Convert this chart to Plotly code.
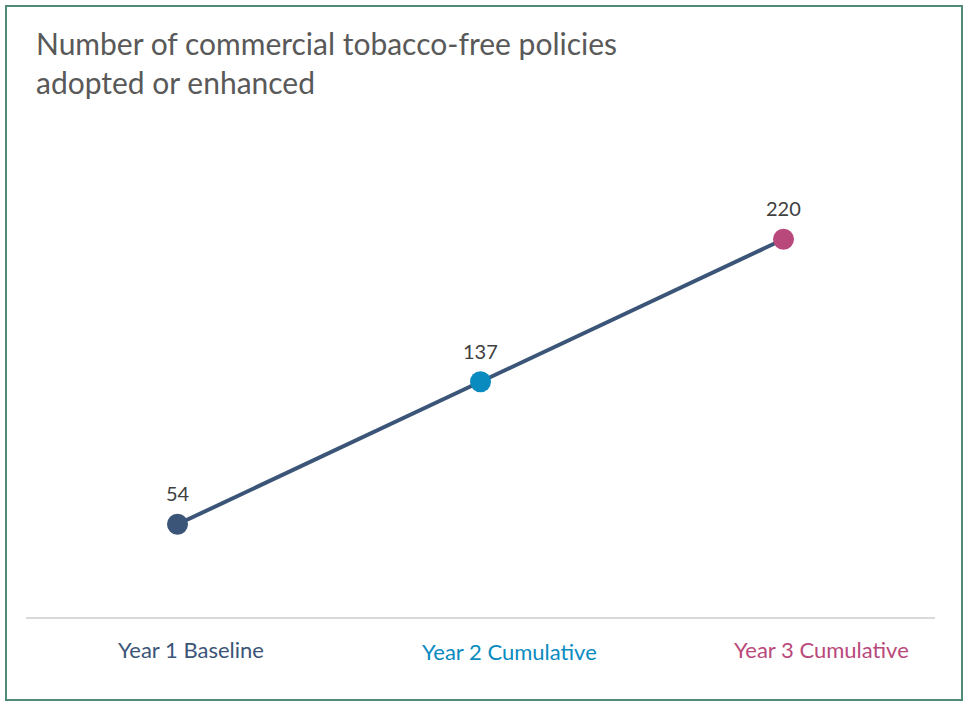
import plotly.graph_objects as go

# Data
categories = ["Year 1 Baseline", "Year 2 Cumulative", "Year 3 Cumulative"]
policies = [54, 137, 220]
point_colors = ["#3b5578", "#0a8bbf", "#b9497b"]
title_text = "Number of commercial tobacco-free policies<br>adopted or enhanced"

FONT = "Lato, 'Open Sans', sans-serif"
W, H = 966, 702
ML, MR, MT, MB = 26, 31, 150, 85
plot_w = W - ML - MR
plot_h = H - MT - MB

# Label offsets (px) for the category captions below the baseline
label_dx = [13, 29, 38]
label_dy = [-32, -34, -32]

fig = go.Figure()

fig.add_trace(go.Scatter(
    x=categories,
    y=policies,
    mode="lines+markers",
    line=dict(color="#3b5578", width=4),
    marker=dict(size=21, color=point_colors, line=dict(width=0)),
    hoverinfo="x+y",
    showlegend=False,
))

# Value labels above each point
for c, v in zip(categories, policies):
    fig.add_annotation(
        x=c, y=v, text=str(v), showarrow=False,
        yshift=31, font=dict(family=FONT, size=20, color="#404040"),
    )

# Coloured category captions
for c, col, dx, dy in zip(categories, point_colors, label_dx, label_dy):
    fig.add_annotation(
        x=c, y=0, text=c, showarrow=False,
        xshift=dx, yshift=dy, yanchor="middle",
        font=dict(family=FONT, size=22, color=col),
    )

# Pixel positions converted to paper units
def px_to_paper_x(px):
    return (px - ML) / plot_w

def px_to_paper_y(py):
    return (H - MB - py) / plot_h

# Chart title
fig.add_annotation(
    xref="paper", yref="paper",
    x=px_to_paper_x(34), y=px_to_paper_y(23),
    xanchor="left", yanchor="top", align="left",
    text=title_text, showarrow=False,
    font=dict(family=FONT, size=30, color="#595959"),
)

# Outer frame around the whole chart
fig.add_shape(
    type="rect", xref="paper", yref="paper",
    x0=px_to_paper_x(6), x1=px_to_paper_x(962),
    y0=px_to_paper_y(700), y1=px_to_paper_y(6),
    line=dict(color="#4f8c78", width=2), fillcolor="rgba(0,0,0,0)", layer="above",
)

fig.update_layout(
    width=W, height=H,
    margin=dict(l=ML, r=MR, t=MT, b=MB),
    paper_bgcolor="white", plot_bgcolor="white",
    font=dict(family=FONT),
    xaxis=dict(
        type="category", categoryorder="array", categoryarray=categories,
        range=[-0.5, len(categories) - 0.5],
        showgrid=False, zeroline=False,
        showline=True, linecolor="#d9d9d9", linewidth=2,
        ticks="", showticklabels=False,
    ),
    yaxis=dict(
        range=[0, 272], visible=False, showgrid=False, zeroline=False,
    ),
)

fig.write_html("out.html")
